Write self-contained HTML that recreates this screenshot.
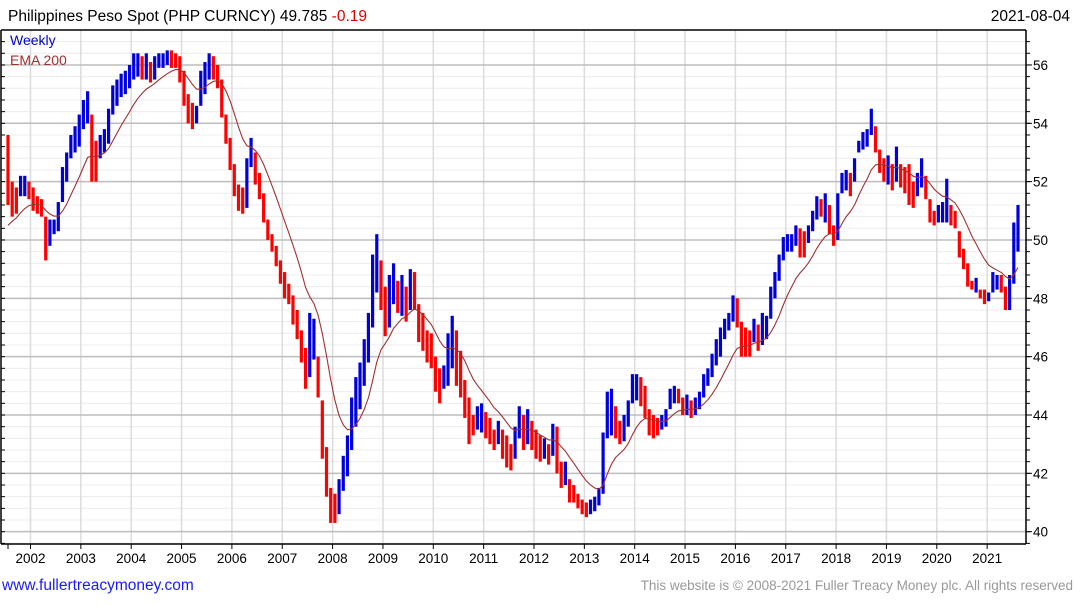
<!DOCTYPE html>
<html><head><meta charset="utf-8"><style>
body{margin:0;background:#fff;width:1075px;height:600px;overflow:hidden;font-family:"Liberation Sans","DejaVu Sans",sans-serif}
svg text{font-family:"Liberation Sans","DejaVu Sans",sans-serif}
</style></head><body>
<svg id="chart" width="1075" height="600" xmlns="http://www.w3.org/2000/svg">
<text x="8" y="21" font-size="15.5" fill="#000">Philippines Peso Spot (PHP CURNCY) 49.785 <tspan fill="#e00000">-0.19</tspan></text>
<text x="1070" y="21" font-size="15.5" fill="#000" text-anchor="end">2021-08-04</text>
<g id="grid"></g>
<g id="bars"></g>
<g id="ema"></g>
<g id="axes"></g>
<text x="10" y="45" font-size="14" fill="#0000cc">Weekly</text>
<text x="10" y="65" font-size="14" fill="#a03030">EMA 200</text>
<text x="2" y="590" font-size="15.5" fill="#1a1aff">www.fullertreacymoney.com</text>
<text x="1073" y="590" font-size="13.5" fill="#999" text-anchor="end">This website is © 2008-2021 Fuller Treacy Money plc. All rights reserved</text>
</svg>
<script>
// Monthly high/low from Jul 2001 to Aug 2021
const highs=[53.6,52.0,51.8,52.2,52.2,52.0,51.8,51.5,51.4,50.8,50.7,50.7,51.3,52.5,53.0,53.6,53.9,54.3,54.8,55.1,54.3,53.4,53.6,53.8,54.5,55.3,55.5,55.7,55.8,56.0,56.4,56.4,56.3,56.4,56.1,56.3,56.4,56.4,56.5,56.5,56.4,56.3,55.8,55.0,54.7,54.6,55.8,56.1,56.4,56.3,56.0,55.5,54.3,53.5,52.6,51.9,51.8,52.8,53.5,53.0,52.3,51.6,50.7,50.2,49.8,49.3,48.9,48.5,48.1,47.6,46.9,46.3,47.5,47.3,46.0,44.5,42.9,41.5,41.3,41.8,42.6,43.3,44.6,45.3,45.8,46.6,47.5,49.5,50.2,49.3,48.4,48.8,49.2,48.6,48.8,48.4,49.0,48.9,47.8,47.5,46.9,46.8,46.0,45.6,45.7,46.8,47.4,46.9,46.2,45.2,44.6,44.0,44.3,44.4,44.1,43.9,43.5,43.8,43.5,43.3,43.0,43.6,44.3,44.0,44.2,43.8,43.5,43.3,43.2,43.0,43.7,43.6,42.4,42.4,41.8,41.6,41.3,41.1,41.0,41.1,41.2,41.5,43.4,44.8,44.9,44.3,43.8,44.0,44.5,45.4,45.4,45.3,45.0,44.2,44.0,43.9,44.0,44.2,44.9,45.0,44.9,44.6,44.7,44.5,44.6,44.8,45.4,45.6,46.1,46.6,47.0,47.3,47.5,48.1,48.0,47.2,47.0,46.9,47.3,47.1,47.5,47.4,48.4,48.9,49.5,50.1,50.2,50.2,50.5,50.4,50.3,50.5,51.0,51.5,51.4,51.6,51.2,50.5,51.6,52.3,52.4,52.3,52.8,53.4,53.7,53.8,54.5,53.9,53.1,52.8,52.9,52.6,53.2,52.6,52.5,52.6,52.0,52.3,52.8,52.2,51.4,51.0,51.2,51.3,52.1,51.2,51.0,50.3,49.7,49.2,48.6,48.7,48.3,48.3,48.2,48.9,48.8,48.8,48.4,48.8,50.6,51.2];
const lows=[51.2,50.8,50.9,51.5,51.5,51.4,51.0,50.9,50.8,49.3,49.8,50.2,50.3,51.3,52.0,52.8,53.0,53.2,53.8,54.0,52.0,52.0,52.8,53.0,53.3,54.3,54.6,54.9,55.0,55.2,55.5,55.6,55.5,55.5,55.4,55.5,55.9,55.9,56.0,55.9,55.9,55.4,54.6,54.0,53.8,54.0,54.6,55.0,55.5,55.5,55.2,54.2,53.3,52.4,51.5,51.0,50.9,51.1,52.5,51.9,51.4,50.6,50.0,49.6,49.1,48.5,48.0,47.8,47.1,46.6,45.8,44.9,45.3,45.9,44.6,42.5,41.2,40.3,40.3,40.6,41.4,41.9,42.8,43.6,44.2,45.0,45.8,47.0,48.2,47.6,46.7,47.0,47.8,47.5,47.4,47.2,47.6,47.6,46.5,46.2,45.8,45.6,44.8,44.4,44.9,45.0,45.6,45.0,44.6,43.9,43.0,43.3,43.5,43.4,43.2,43.0,42.8,43.0,42.5,42.2,42.1,42.5,43.2,42.8,43.0,42.8,42.5,42.4,42.5,42.3,42.6,42.0,41.5,41.6,41.0,41.0,40.8,40.6,40.5,40.6,40.7,40.9,41.3,43.2,43.3,43.2,43.0,43.1,43.6,44.4,44.5,44.3,43.9,43.3,43.2,43.3,43.5,43.6,44.2,44.4,44.4,44.0,44.0,43.9,44.0,44.2,44.6,45.0,45.3,45.7,46.0,46.6,46.9,47.2,47.0,46.0,46.0,46.0,46.5,46.2,46.4,46.6,47.3,48.0,48.6,49.3,49.6,49.6,49.8,49.4,49.4,49.9,50.3,50.7,50.8,50.6,50.2,49.8,50.0,51.6,51.7,51.5,52.0,53.0,53.1,53.2,53.6,53.0,52.3,52.0,51.9,51.7,52.0,51.8,51.6,51.2,51.1,51.5,51.8,51.4,50.6,50.5,50.6,50.6,50.6,50.5,50.4,49.4,49.0,48.4,48.3,48.2,48.0,47.8,47.9,48.2,48.3,48.2,47.6,47.6,48.5,49.6];
const yTicks=[40,42,44,46,48,50,52,54,56];
const yearLabels=[2002,2003,2004,2005,2006,2007,2008,2009,2010,2011,2012,2013,2014,2015,2016,2017,2018,2019,2020,2021];
const emaSeed=50.5;
const emaPeriodMonths=11.5;

const NS="http://www.w3.org/2000/svg";
const X0=8,X1=1018,TOP=30,BOT=544,RIGHT=1026;
function y(v){return 123.3+(54-v)*29.17;}
function xm(i){return X0+i*(X1-X0)/(highs.length-1);}
function xYear(yr){return 30.5+(yr-2002)*50.35;}
function mk(tag,attrs,parent){const e=document.createElementNS(NS,tag);for(const k in attrs)e.setAttribute(k,attrs[k]);parent.appendChild(e);return e;}
const grid=document.getElementById('grid'),bars=document.getElementById('bars'),emaG=document.getElementById('ema'),axes=document.getElementById('axes');

for(let v=39.6;v<=57.2;v+=0.4){const yy=y(v);if(yy<TOP||yy>BOT)continue;
 const l=mk('line',{x1:2,x2:RIGHT,y1:yy,y2:yy,stroke:'#ececec','stroke-width':1},grid);
 
 
 const t=mk('line',{x1:1,x2:5,y1:yy,y2:yy,stroke:'#000','stroke-width':1},axes);
 
 
 const t2=mk('line',{x1:RIGHT,x2:RIGHT+4,y1:yy,y2:yy,stroke:'#000','stroke-width':1},axes);
 
 
}
yearLabels.forEach(yr=>{const xx=xYear(yr);
 const l=mk('line',{x1:xx,x2:xx,y1:TOP,y2:BOT,stroke:'#dcdcdc','stroke-width':1.5},grid);
 
 
 const t=mk('line',{x1:xx,x2:xx,y1:BOT,y2:BOT+5,stroke:'#000','stroke-width':1},axes);
 
 
 const tx=mk('text',{x:xx,y:BOT+19,'font-size':13.5,'text-anchor':'middle',fill:'#000'},axes);
 tx.textContent=yr;
 
 
});
yTicks.forEach(v=>{const yy=y(v);
 const l=mk('line',{x1:2,x2:RIGHT,y1:yy,y2:yy,stroke:'#bdbdbd','stroke-width':1.5},grid);
 
 
 const t=mk('line',{x1:RIGHT,x2:RIGHT+6,y1:yy,y2:yy,stroke:'#000','stroke-width':1},axes);
 
 
 const tx=mk('text',{x:RIGHT+7,y:yy+5,'font-size':13.5,fill:'#000'},axes);
 tx.textContent=v;
 
 
});
const st=mk('line',{x1:X0,x2:X0,y1:BOT,y2:BOT+5,stroke:'#000'},axes);


[[1,TOP,1,BOT],[1,BOT,RIGHT,BOT],[RIGHT,TOP,RIGHT,BOT],[1,TOP,RIGHT,TOP]].forEach(a=>{
 const l=mk('line',{x1:a[0],y1:a[1],x2:a[2],y2:a[3],stroke:'#000','stroke-width':1.5},axes);
 
 
});

let prevMid=null;
for(let i=0;i<highs.length;i++){
 const mid=(highs[i]+lows[i])/2;
 const up=prevMid===null?false:mid>=prevMid;
 prevMid=mid;
 const x=xm(i);
 const r=mk('rect',{x:x-1.6,y:y(highs[i]),width:3.2,height:Math.max(1,y(lows[i])-y(highs[i])),fill:up?'#0000dd':'#ff0000'},bars);
 
 
}
const a=2/(emaPeriodMonths+1);let e=emaSeed;let d='';
for(let i=0;i<highs.length;i++){
 const c=(highs[i]+lows[i])/2;
 if(i>0)e=e+a*(c-e);
 d+=(i?'L':'M')+xm(i).toFixed(1)+','+y(e).toFixed(1);
}
const p=mk('path',{d:d,fill:'none',stroke:'#a03030','stroke-width':1.1},emaG);


</script>
</body></html>
